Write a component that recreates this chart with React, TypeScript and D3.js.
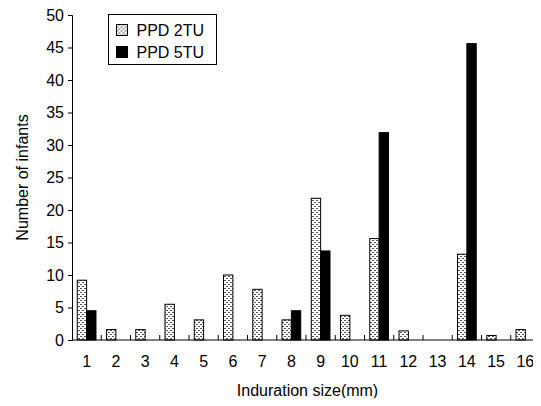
import React, { useEffect, useRef } from 'react'
import * as d3 from 'd3'

const categories = ['1', '2', '3', '4', '5', '6', '7', '8', '9', '10', '11', '12', '13', '14', '15', '16']
const seriesNames = ['PPD 2TU', 'PPD 5TU']
const ppd2tu = [9.2, 1.6, 1.6, 5.5, 3.1, 10, 7.8, 3.1, 21.8, 3.8, 15.6, 1.4, 0, 13.2, 0.7, 1.6]
const ppd5tu = [4.5, 0, 0, 0, 0, 0, 0, 4.5, 13.7, 0, 31.9, 0, 0, 45.6, 0, 0]
const yTicks = [0, 5, 10, 15, 20, 25, 30, 35, 40, 45, 50]

export default function App() {
  const svgRef = useRef<SVGSVGElement>(null)

  useEffect(() => {
    const svg = d3.select(svgRef.current)
    svg.selectAll('*').remove()
    const width = 541
    const height = 406
    const margin = { top: 15, right: 1, bottom: 66, left: 72 }
    const font = 'Liberation Sans, Arial, sans-serif'
    const fs = 16

    // dotted fill for the 2TU bars
    const defs = svg.append('defs')
    const pat = defs.append('pattern')
      .attr('id', 'dots')
      .attr('width', 4).attr('height', 4)
      .attr('patternUnits', 'userSpaceOnUse')
    pat.append('rect').attr('width', 4).attr('height', 4).attr('fill', '#fff')
    pat.append('rect').attr('x', 0).attr('y', 0).attr('width', 2).attr('height', 1).attr('fill', '#555')
    pat.append('rect').attr('x', 2).attr('y', 2).attr('width', 2).attr('height', 1).attr('fill', '#555')

    const x = d3.scaleBand().domain(categories).range([margin.left, width - margin.right])
    const bw = x.bandwidth()
    const xs = d3.scaleBand().domain(seriesNames).range([bw * 0.18, bw * 0.82])
    const y = d3.scaleLinear().domain([0, 50]).range([height - margin.bottom, margin.top])

    const rows = categories.map((c, i) => ({ c, vals: [ppd2tu[i], ppd5tu[i]] }))
    const fills = ['url(#dots)', '#000']

    const g = svg.append('g')
    rows.forEach(r => {
      r.vals.forEach((v, k) => {
        if (v <= 0) return
        g.append('rect')
          .attr('x', x(r.c)! + xs(seriesNames[k])!)
          .attr('y', y(v))
          .attr('width', xs.bandwidth())
          .attr('height', y(0) - y(v))
          .attr('fill', fills[k])
          .attr('stroke', '#000')
          .attr('stroke-width', 1)
      })
    })

    // y axis
    const ya = svg.append('g')
      .attr('transform', `translate(${margin.left},0)`)
      .call(d3.axisLeft(y).tickValues(yTicks).tickSize(4).tickPadding(4))
    ya.select('.domain').attr('stroke', '#000')
    ya.selectAll('text').attr('font-family', font).attr('font-size', fs).attr('fill', '#000')

    // x axis
    const base = y(0)
    svg.append('line')
      .attr('x1', margin.left).attr('x2', width - margin.right)
      .attr('y1', base).attr('y2', base)
      .attr('stroke', '#000')
    categories.slice(1).forEach(c => {
      svg.append('line')
        .attr('x1', x(c)!).attr('x2', x(c)!)
        .attr('y1', base).attr('y2', base - 5)
        .attr('stroke', '#000')
    })
    categories.forEach(c => {
      svg.append('text')
        .attr('x', x(c)! + bw / 2)
        .attr('y', base + 27)
        .attr('text-anchor', 'middle')
        .attr('font-family', font).attr('font-size', fs)
        .text(c)
    })

    svg.append('text')
      .attr('x', (margin.left + width) / 2 + 1)
      .attr('y', 396)
      .attr('text-anchor', 'middle')
      .attr('font-family', font).attr('font-size', fs)
      .text('Induration size(mm)')

    svg.append('text')
      .attr('transform', `translate(28,${(margin.top + base) / 2}) rotate(-90)`)
      .attr('text-anchor', 'middle')
      .attr('font-family', font).attr('font-size', fs)
      .text('Number of infants')

    // legend
    const lg = svg.append('g').attr('transform', 'translate(108.5,14.5)')
    lg.append('rect').attr('width', 108).attr('height', 50).attr('fill', '#fff').attr('stroke', '#000')
    seriesNames.forEach((s, i) => {
      lg.append('rect')
        .attr('x', 8).attr('y', 10 + i * 22)
        .attr('width', 11).attr('height', 11)
        .attr('fill', fills[i]).attr('stroke', '#000')
      lg.append('text')
        .attr('x', 28).attr('y', 21 + i * 22)
        .attr('font-family', font).attr('font-size', fs)
        .text(s)
    })
  }, [])

  return <svg ref={svgRef} width={541} height={406} style={{ display: 'block', margin: -8 }} />
}
